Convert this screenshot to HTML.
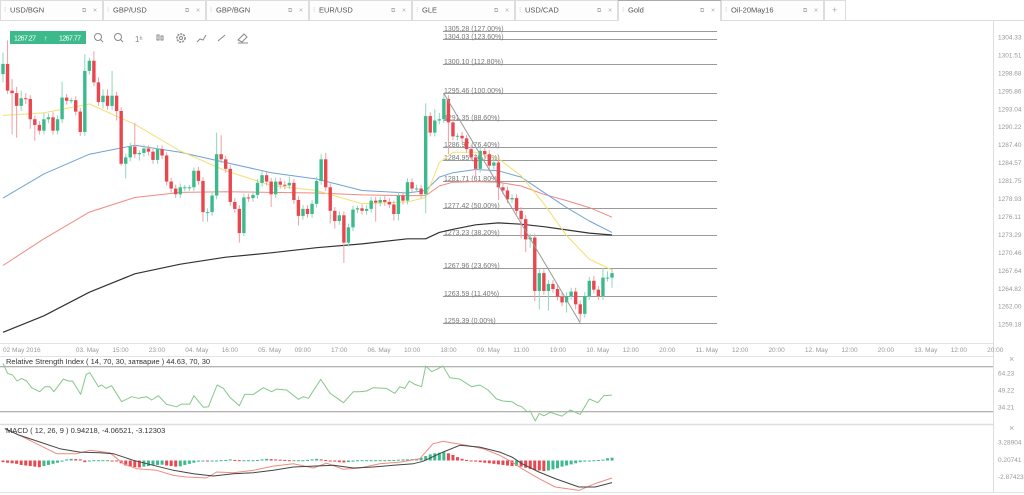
<!DOCTYPE html>
<html><head><meta charset="utf-8"><style>
html,body{margin:0;padding:0;background:#fff;width:1024px;height:495px;overflow:hidden;font-family:"Liberation Sans",sans-serif}
svg text{font-family:"Liberation Sans","Noto Sans CJK JP",sans-serif}
</style></head><body>
<svg id="c" width="1024" height="495" viewBox="0 0 1024 495" xmlns="http://www.w3.org/2000/svg">
<rect x="0" y="0" width="1024" height="495" fill="#fff"/>
<g id="tabs"></g>
<g>
<rect x="10" y="31" width="76" height="13" fill="#3dba8c"/>
<text x="14" y="40.5" font-size="7" fill="#fff" textLength="22">1267.27</text>
<text x="44" y="40.5" font-size="7" fill="#fff">↑</text>
<text x="59" y="40.5" font-size="7" fill="#fff" textLength="22">1267.77</text>
<g fill="none" stroke="#8a8a8a" stroke-width="1">
<g><circle cx="98" cy="37" r="3.5"/><line x1="100.5" y1="39.5" x2="103" y2="42"/></g>
<g><circle cx="118" cy="37" r="3.5"/><line x1="120.5" y1="39.5" x2="123" y2="42"/></g>
<g><rect x="157" y="35" width="2" height="5"/><rect x="161" y="36" width="2" height="4"/></g>
<g><circle cx="181" cy="38" r="4" stroke-width="1.6" stroke-dasharray="2 1"/><circle cx="181" cy="38" r="1.5"/></g>
<g><polyline points="197,42 200,39 203,40 206,35"/></g>
<g><line x1="218" y1="41" x2="225" y2="35"/></g>
<g><path d="M238 40 L244 34 L247 37 L242 42 Z"/><line x1="238" y1="43" x2="248" y2="43"/></g>
</g>
<text x="135" y="42" font-size="8" fill="#888">1ʰ</text>
</g>
<line x1="993.5" y1="20" x2="993.5" y2="492" stroke="#ddd"/>
<line x1="0" y1="343.5" x2="993" y2="343.5" stroke="#e3e3e3"/>
<line x1="0" y1="356.5" x2="993" y2="356.5" stroke="#e3e3e3"/>
<line x1="0" y1="424.5" x2="993" y2="424.5" stroke="#ddd" stroke-width="1.5"/>
<line x1="0" y1="492.5" x2="1024" y2="492.5" stroke="#e3e3e3"/>
<g id="main"></g>
<g id="time"></g>
<g id="rsi"></g>
<g id="macd"></g>
<text x="6" y="364" font-size="7.5" fill="#333">Relative Strength Index ( 14, 70, 30, затварие ) 44.63, 70, 30</text>
<text x="6" y="433" font-size="7.5" fill="#333">MACD ( 12, 26, 9 ) 0.94218, -4.06521, -3.12303</text>
<text x="1009" y="362" font-size="9" fill="#aaa">×</text>
<text x="1009" y="431" font-size="9" fill="#aaa">×</text>
</svg>
<script>
const tabNames=["USD/BGN","GBP/USD","GBP/BGN","EUR/USD","GLE","USD/CAD","Gold","Oil-20May16"];
const closes=[1300.1,1295.9,1295.5,1293.5,1294.7,1294.6,1291.4,1290.5,1289.6,1291.4,
1291.7,1289.6,1291.4,1294.8,1294.3,1294.4,1292.6,1289.4,1299.0,1300.6,
1297.2,1294.1,1295.1,1293.5,1295.1,1292.7,1284.4,1285.4,1287.1,1285.9,
1286.1,1286.8,1286.3,1285.0,1286.7,1285.7,1281.6,1280.5,1279.6,1280.7,
1280.7,1280.7,1283.3,1281.7,1276.8,1276.8,1279.4,1285.9,1285.1,1283.6,
1278.4,1277.3,1273.5,1279.1,1279.0,1279.5,1281.4,1282.6,1281.6,1279.6,
1281.6,1281.1,1281.0,1281.4,1278.7,1276.2,1277.3,1276.5,1278.1,1281.7,
1285.1,1280.7,1277.0,1275.4,1276.3,1272.0,1274.4,1277.2,1277.4,1277.0,
1277.3,1278.6,1278.3,1278.7,1278.4,1278.0,1276.5,1279.4,1278.6,1281.5,
1280.5,1280.5,1279.6,1291.9,1289.3,1291.2,1291.4,1294.6,1290.9,1288.7,
1288.8,1288.4,1286.7,1285.4,1283.6,1286.4,1285.9,1284.1,1284.6,1280.7,
1280.2,1278.8,1279.0,1277.0,1275.7,1272.5,1272.8,1264.4,1267.2,1264.4,
1265.5,1264.7,1263.5,1262.6,1263.6,1264.3,1262.3,1260.8,1263.6,1266.0,
1264.6,1263.6,1266.5,1266.5,1267.2];
const firstOpen=1298.5;
const wickUp=[1.8,3.7,1.8,1.0,1.2,0.8,0.6,0.6,0.6,1.0,
0.6,0.8,0.6,2.5,0.6,0.4,0.6,0.6,2.6,0.5,
1.5,0.8,1.0,1.0,3.9,0.6,0.6,0.6,0.6,3.7,
0.4,0.6,0.5,0.6,0.6,0.6,0.5,0.6,0.6,0.6,
0.4,0.4,0.5,0.6,0.6,0.6,0.6,3.4,3.0,0.6,
0.6,0.6,0.6,0.6,0.6,0.6,0.6,0.6,0.5,0.6,
0.6,0.6,0.6,1.0,0.6,0.6,0.6,0.6,0.6,0.6,
0.8,1.0,0.6,0.6,0.6,0.6,0.6,0.6,0.4,0.6,
0.6,0.6,0.6,0.5,0.6,0.6,0.6,0.6,0.6,0.6,
0.6,0.6,0.6,2.0,0.6,1.8,1.0,0.8,0.6,0.6,
0.4,0.6,0.5,0.6,0.6,0.6,0.6,0.6,0.6,0.6,
0.6,0.6,0.6,0.6,0.6,0.6,0.6,0.6,0.6,0.6,
0.6,0.6,0.6,0.6,0.6,0.6,0.6,0.6,0.6,0.6,
0.8,0.6,1.5,1.0,0.6];
const wickDn=[1.3,0.5,6.5,5.0,0.8,0.8,1.5,2.5,0.6,0.6,
0.6,0.6,0.6,0.6,0.6,0.4,0.6,0.6,0.6,0.6,
0.6,0.6,1.0,0.6,0.6,1.5,0.3,2.3,0.6,0.6,
1.0,0.6,0.6,0.6,0.6,0.6,0.6,0.6,0.6,0.6,
0.6,0.6,0.6,0.6,1.5,1.5,0.6,0.6,0.6,0.6,
0.6,0.6,1.5,0.5,0.6,0.6,0.6,0.6,0.6,2.0,
0.6,0.6,0.6,0.6,0.6,1.5,0.6,0.6,0.6,0.6,
0.6,0.6,2.0,1.2,0.6,3.2,0.6,0.6,0.6,0.6,
0.6,0.6,3.0,0.6,0.6,0.6,1.0,1.0,0.6,0.6,
0.6,0.6,0.6,3.0,0.6,0.6,0.6,0.6,5.0,0.6,
0.6,0.6,0.6,0.6,1.3,0.6,0.6,0.6,0.6,2.0,
0.6,0.6,0.6,0.6,3.0,2.0,1.3,1.6,2.9,0.6,
3.1,0.6,0.6,0.6,1.6,0.6,0.8,1.2,0.6,0.6,
0.6,0.6,0.6,0.6,1.6];
const maIdx=[1,10,20,30,40,50,60,70,80,90,94,97,100,105,110,115,120,125,130,135];
const maYellow=[1292.0,1292.4,1293.8,1290.6,1286.4,1283.3,1281.0,1280.2,1278.1,1278.4,1279.1,1284.6,1286.2,1286.2,1285.2,1282.5,1278.1,1273.1,1269.4,1267.7];
const maBlue=[1279.0,1282.8,1285.9,1287.3,1286.2,1284.6,1283.0,1282.0,1280.2,1279.8,1280.2,1282.3,1283.0,1283.5,1283.3,1282.3,1279.9,1277.5,1275.4,1273.6];
const maRed=[1268.4,1272.6,1276.8,1279.1,1279.9,1280.0,1279.9,1279.8,1279.5,1279.4,1279.4,1280.9,1281.5,1281.6,1281.5,1280.9,1279.6,1278.6,1277.5,1276.0];
const maBlack=[1257.9,1260.5,1264.2,1267.1,1268.6,1269.7,1270.4,1271.2,1271.8,1272.6,1272.6,1273.6,1274.1,1274.8,1275.1,1274.9,1274.5,1274.0,1273.5,1273.2];
const fibPrices=[1305.28,1304.03,1300.10,1295.46,1291.35,1286.97,1284.95,1281.71,1277.42,1273.23,1267.96,1263.59,1259.39];
const fibPct=["127.00%","123.60%","112.80%","100.00%","88.60%","76.40%","70.70%","61.80%","50.00%","38.20%","23.60%","11.40%","0.00%"];
const trendIdx=[98,128];
const trendPrice=[1295.46,1259.39];
const priceTicks=[1304.33,1301.51,1298.68,1295.86,1293.04,1290.22,1287.40,1284.57,1281.75,1278.93,1276.11,1273.29,1270.46,1267.64,1264.82,1262.00,1259.18];
const timeLabels=["02 May 2016","03. May","15:00","23:00","04. May","16:00","05. May","09:00","17:00","06. May","10:00","18:00","09. May","11:00","19:00","10. May","12:00","20:00","11. May","12:00","20:00","12. May","12:00","20:00","13. May","12:00","20:00"];
const timeSlots=[0,2,3,4,5,6,7,8,9,10,11,12,13,14,15,16,17,18,19,20,21,22,23,24,25,26,27];
const rsiIdx=[1,2,3.1,4.1,5.1,6.2,7.3,9.1,10.2,11.3,12.2,14.3,15.4,16.3,18.1,19.3,20.1,22,22.7,23.7,24.9,27.1,29.3,30.8,32.6,33.7,35.2,37,39.2,40.3,42.1,43,45.1,46.2,48.1,49.5,51,53,54.2,56.1,58.3,60.1,61.2,63.4,66,67.1,68.2,70.9,73,74.4,75.9,78.1,79.5,81,82.4,85.4,87.2,88.3,89.4,90.4,91.6,93.1,94,95.3,96.4,97.8,99.3,101.5,104.1,105.9,107.7,109.6,111,113,114.1,115.2,116.3,117,118.1,119,120,121.4,124,125.8,128,130,131.9,133.2,135];
const rsiVal=[73.0,64.1,62.6,57.3,59.6,57.3,51.3,47.8,52.2,52.2,47.8,59.0,57.3,57.3,45.4,63.2,64.7,52.2,53.7,50.7,53.1,38.9,43.3,41.9,43.3,40.4,44.2,36.5,34.4,36.8,36.8,44.2,33.9,34.4,53.7,50.7,42.4,35.3,45.4,45.4,51.3,47.8,50.1,49.3,41.0,43.3,41.9,58.7,46.3,42.4,38.0,47.8,47.8,48.4,51.3,50.7,46.3,52.2,50.7,57.3,54.3,52.2,70.6,65.6,67.6,70.6,60.2,59.0,52.2,53.7,49.3,41.3,39.5,38.9,35.9,34.4,30.0,30.6,21.7,28.5,26.4,29.4,26.1,31.5,27.6,41.3,38.0,44.2,44.8];
const rsiLevels=[70,30];
const rsiTicks=[64.23,49.22,34.21];
const macdIdx=[1.4,4.7,9.1,13.5,17.9,22.3,25.3,29.7,34.1,38.5,42.9,47.3,51.7,56.1,60.5,64.9,69.3,73.7,78.1,82.4,86.9,91.3,93.4,97.8,101.5,105.9,110.3,113,115.2,118.9,122.5,127.7,131.3,135];
const macdVal=[5.74,4.53,3.33,2.13,1.52,1.41,1.23,0.03,-0.87,-1.77,-2.37,-2.80,-2.37,-2.19,-1.77,-1.18,-1.00,-0.87,-1.36,-1.18,-0.87,-0.57,-0.15,1.52,2.73,2.42,1.52,0.62,-0.57,-2.08,-3.27,-4.78,-4.78,-3.99];
const sigIdx=[1.4,4.7,9.1,12.8,17.2,20.1,24.5,27.5,30.4,34.8,38.5,41.4,45.8,48,51.7,56.1,60.5,64.9,69.3,72.2,75.9,79.5,83.9,88.3,92.7,95.6,97.8,103,106.6,110.3,113,115.2,118.9,122.5,127.7,131.3,135];
const sigVal=[5.74,4.53,2.73,1.23,1.23,1.83,1.41,-0.57,-1.47,-1.77,-2.68,-2.98,-3.16,-2.08,-2.19,-1.77,-1.00,-0.57,-1.36,-0.46,-1.59,-1.36,-0.57,-0.28,0.33,3.03,3.45,2.73,2.13,0.93,-0.28,-1.47,-3.27,-4.78,-5.38,-4.17,-3.16];
const hist=[-0.3,-0.4,-0.5,-0.6,-0.8,-0.9,-1.0,-1.1,-1.2,-1.0,-0.8,-0.6,-0.4,-0.2,0.2,0.3,0.25,0.2,-0.3,-0.1,
0.05,0.05,0.05,0.05,0,-0.1,
-0.5,-0.9,-1.1,-1.2,-1.25,
-1.1,-1.0,-0.9,-0.8,-0.75,
-0.9,-1.0,-1.1,-1.05,
-0.8,-0.6,-0.4,-0.2,-0.1,
-0.15,-0.1,-0.1,
0.05,0.1,0.2,0.1,0.05,0.05,0.05,0.05,
0.1,0.2,0.3,0.25,0.2,
0.15,0.1,0.05,0.05,0.05,
0.05,0.1,0.2,0.3,0.2,0.1,
-0.1,-0.2,-0.3,-0.35,-0.3,-0.2,
0.05,0.05,0.05,0.05,0.05,0.05,0.05,0.1,
0.1,0.15,0.2,0.2,0.25,0.3,0.5,
0.8,1.1,1.3,1.4,1.5,1.3,
1.0,0.6,0.3,0.1,-0.05,
-0.2,-0.3,-0.4,-0.5,-0.6,-0.7,-0.8,-0.9,-1.0,
-1.0,-1.1,-1.3,-1.5,-1.7,-1.8,-1.9,
-1.8,-1.6,-1.4,-1.1,-0.9,-0.7,-0.5,-0.3,
-0.2,-0.1,0.05,0.1,0.15,0.4,0.5];
const macdTicks=["3.28904","0.20741","-2.87423"];
const macdTickVals=[3.28904,0.20741,-2.87423];

const NS="http://www.w3.org/2000/svg";
function mk(parent,tag,attrs,text){const e=document.createElementNS(NS,tag);for(const k in attrs)e.setAttribute(k,attrs[k]);if(text!==undefined)e.textContent=text;parent.appendChild(e);return e;}
const xI=i=>3+(i-1)*4.545;
const yP=p=>37+(1304.33-p)*6.36;
const yR=v=>366.7+(70-v)*1.125;
const yM=v=>460.5-v*5.55;
const xT=s=>3+s*36.45;
const GREEN="#3dba8c",RED="#e8474f";

const tabs=document.getElementById('tabs');
tabNames.forEach((n,k)=>{
  const x=k*103,active=n==="Gold";
  const g=mk(tabs,'g',{});
  
  
  mk(g,'rect',{x:x+0.5,y:0.5,width:102,height:20,fill:active?'#fff':'#fdfdfd',stroke:'#ddd'});
  if(active){mk(g,'line',{x1:x,y1:0.5,x2:x+103,y2:0.5,stroke:'#aaa'});mk(g,'line',{x1:x+1,y1:20.5,x2:x+102,y2:20.5,stroke:'#fff'});}
  mk(g,'text',{x:x+4,y:12,'font-size':7,fill:'#bbb'},'⁝');
  mk(g,'text',{x:x+10,y:12.5,'font-size':7.5,fill:'#555'},n);
  mk(g,'text',{x:x+82,y:12,'font-size':6,fill:'#aaa'},'⧉');
  mk(g,'text',{x:x+93,y:12.5,'font-size':7,fill:'#aaa'},'×');
});
const plus=mk(tabs,'g',{});


mk(plus,'rect',{x:824.5,y:0.5,width:21,height:20,fill:'#fff',stroke:'#ddd'});
mk(plus,'text',{x:832,y:13,'font-size':9,fill:'#aaa'},'+');
mk(tabs,'line',{x1:721,y1:20.5,x2:1024,y2:20.5,stroke:'#ddd'});
mk(tabs,'line',{x1:0,y1:20.5,x2:618,y2:20.5,stroke:'#ddd'});

const main=document.getElementById('main');
fibPrices.forEach((p,k)=>{
  const y=Math.round(yP(p))+0.5;
  const l=mk(main,'line',{x1:443,y1:y,x2:717,y2:y,stroke:'#9a9a9a','stroke-width':1});
  
  
  const t=mk(main,'text',{x:444,y:y-0.5,'font-size':7,fill:'#777'},p.toFixed(2)+' ('+fibPct[k]+')');
  
  
});
function line(parent,idx,vals,yf,color,w,name){
  const pts=idx.map((i,k)=>xI(i).toFixed(1)+','+yf(vals[k]).toFixed(1)).join(' ');
  const e=mk(parent,'polyline',{points:pts,fill:'none',stroke:color,'stroke-width':w,'stroke-linejoin':'round'});
  
  
  return e;
}
line(main,maIdx,maBlack,yP,'#333',1.2,'ma-black');
line(main,maIdx,maRed,yP,'#f08a80',1,'ma-red');
line(main,maIdx,maBlue,yP,'#6fa3d8',1,'ma-blue');
line(main,maIdx,maYellow,yP,'#f0e070',1,'ma-yellow');
closes.forEach((c,k)=>{
  const o=k===0?firstOpen:closes[k-1];
  const hi=Math.max(o,c)+wickUp[k],lo=Math.min(o,c)-wickDn[k];
  const x=xI(k+1),up=c>=o,col=up?GREEN:RED;
  const g=mk(main,'g',{});
  
  
  mk(g,'line',{x1:x,y1:yP(hi),x2:x,y2:yP(lo),stroke:up?'#8fd8bb':'#f0a0a4','stroke-width':1});
  const yt=yP(Math.max(o,c)),yb=yP(Math.min(o,c));
  mk(g,'rect',{x:x-1.7,y:yt,width:3.4,height:Math.max(1,yb-yt),fill:col});
});
const tl=mk(main,'line',{x1:xI(trendIdx[0]),y1:yP(trendPrice[0]),x2:xI(trendIdx[1]),y2:yP(trendPrice[1]),stroke:'#999','stroke-width':1});


priceTicks.forEach(p=>{
  const t=mk(main,'text',{x:998,y:yP(p)+2.5,'font-size':6.5,fill:'#999'},p.toFixed(2));
  
  
});
const time=document.getElementById('time');
timeLabels.forEach((s,k)=>{
  const t=mk(time,'text',{x:xT(timeSlots[k]),y:352,'font-size':6.5,fill:'#999'},s);
  
  
});
const rsi=document.getElementById('rsi');
rsiLevels.forEach(v=>{
  const l=mk(rsi,'line',{x1:0,y1:yR(v),x2:993,y2:yR(v),stroke:'#999','stroke-width':1});
  
  
});
line(rsi,rsiIdx,rsiVal,yR,'#86c78a',1,'rsi-line');
rsiTicks.forEach(v=>{
  const t=mk(rsi,'text',{x:998,y:yR(v)+2.5,'font-size':6.5,fill:'#999'},v.toFixed(2));
  
  
});
const macd=document.getElementById('macd');
hist.forEach((v,k)=>{
  const prev=k===0?0:hist[k-1];
  const col=v>=prev?GREEN:RED;
  const y0=yM(0),y1=yM(v);
  const h=Math.max(1,Math.abs(y1-y0));
  const r=mk(macd,'rect',{x:xI(k+1)-1.5,y:Math.min(y0,y1),width:3,height:h,fill:col});
  
  
});
line(macd,sigIdx,sigVal,yM,'#f08a80',1,'macd-signal-line');
line(macd,macdIdx,macdVal,yM,'#444',1,'macd-line');
macdTickVals.forEach((v,k)=>{
  const t=mk(macd,'text',{x:998,y:yM(v)+2.5,'font-size':6.5,fill:'#999'},macdTicks[k]);
  
  
});
</script>
</body></html>
